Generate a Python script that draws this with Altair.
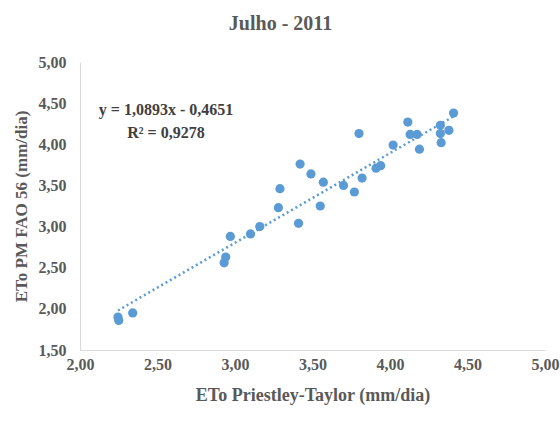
import altair as alt
import pandas as pd

# ETo values (mm/dia) for July 2011
eto_pt = [2.245, 2.25, 2.34, 2.93, 2.94, 2.97, 3.10, 3.16, 3.28, 3.29,
          3.41, 3.42, 3.49, 3.55, 3.57, 3.70, 3.77, 3.80, 3.82, 3.91,
          3.94, 4.02, 4.115, 4.13, 4.175, 4.19, 4.325, 4.325, 4.33, 4.38,
          4.41]
eto_pm = [1.90, 1.86, 1.95, 2.56, 2.63, 2.88, 2.91, 3.00, 3.23, 3.46,
          3.04, 3.76, 3.64, 3.25, 3.54, 3.50, 3.42, 4.13, 3.59, 3.71,
          3.74, 3.99, 4.27, 4.12, 4.12, 3.94, 4.23, 4.13, 4.02, 4.17,
          4.38]

slope = 1.0893
intercept = -0.4651
r2 = 0.9278

points = pd.DataFrame({"pt": eto_pt, "pm": eto_pm})
x_ends = [min(eto_pt), max(eto_pt)]
trend = pd.DataFrame({"pt": x_ends, "pm": [slope * v + intercept for v in x_ends]})

blue = "#5b9bd5"
text_gray = "#595959"
font = "Liberation Serif"
comma_fmt = "replace(format(datum.value, '.2f'), '.', ',')"

x_scale = alt.Scale(domain=[2, 5], nice=False)
y_scale = alt.Scale(domain=[1.5, 5], nice=False)

x_enc = alt.X("pt:Q", scale=x_scale,
              axis=alt.Axis(title="ETo Priestley-Taylor (mm/dia)",
                            values=[2, 2.5, 3, 3.5, 4, 4.5, 5],
                            labelExpr=comma_fmt, grid=False, ticks=False,
                            labelFlush=False, domainColor="#d9d9d9",
                            labelPadding=6, titlePadding=14, titleFontSize=18))
y_enc = alt.Y("pm:Q", scale=y_scale,
              axis=alt.Axis(title="ETo PM FAO 56 (mm/dia)",
                            values=[1.5, 2, 2.5, 3, 3.5, 4, 4.5, 5],
                            labelExpr=comma_fmt, grid=False, ticks=False,
                            labelFlush=False, domainColor="#d9d9d9",
                            labelPadding=14, titlePadding=8))

scatter = alt.Chart(points).mark_point(
    filled=True, color=blue, opacity=1, size=85, shape="circle"
).encode(x=x_enc, y=y_enc)

line = alt.Chart(trend).mark_line(
    color=blue, strokeWidth=2.5, strokeDash=[2, 3]
).encode(x=alt.X("pt:Q", scale=x_scale), y=alt.Y("pm:Q", scale=y_scale))

eq_text = (f"y = {slope:.4f}x - {abs(intercept):.4f}").replace(".", ",")
r2_text = f"R² = {r2:.4f}".replace(".", ",")
one_row = pd.DataFrame({"k": [0]})


def label(text, ypix):
    return alt.Chart(one_row).mark_text(
        font=font, fontSize=16, fontWeight="bold", color="#404040",
        align="center", baseline="middle"
    ).encode(x=alt.value(86), y=alt.value(ypix), text=alt.value(text))


chart = alt.layer(scatter, line, label(eq_text, 48), label(r2_text, 71)).properties(
    width=465, height=288,
    title=alt.TitleParams("Julho - 2011", font=font, fontSize=20,
                          fontWeight="bold", color=text_gray, offset=20, dx=-32),
    padding={"left": 80, "top": 62, "right": 15, "bottom": 75},
    autosize=alt.AutoSizeParams(type="none"),
).configure_view(stroke=None).configure_axis(
    labelFont=font, labelFontSize=16, labelFontWeight="bold", labelColor=text_gray,
    titleFont=font, titleFontSize=17, titleFontWeight="bold", titleColor=text_gray,
)

chart.save("out.html", embed_options={"renderer": "svg", "actions": False})
